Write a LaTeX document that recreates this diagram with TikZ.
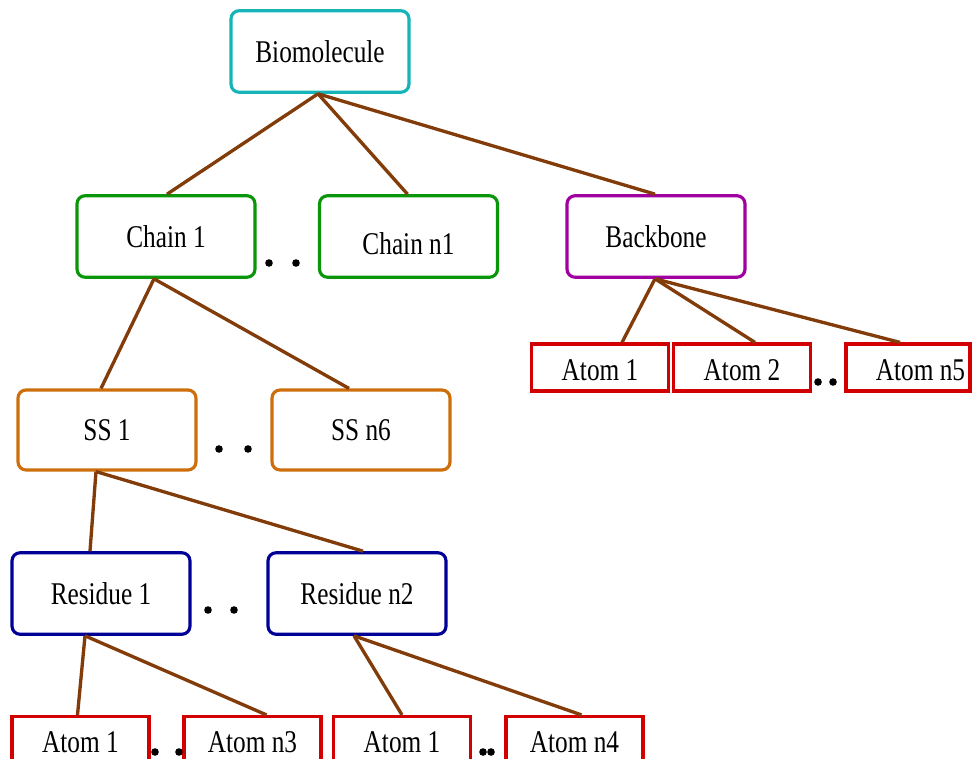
\documentclass[tikz,border=0pt]{standalone}
\usepackage{fontspec}
\setmainfont{Liberation Serif}[FakeStretch=0.8]
\usetikzlibrary{calc}
\definecolor{biocol}{RGB}{20,180,185}
\definecolor{chaincol}{RGB}{10,150,10}
\definecolor{bbcol}{RGB}{160,0,160}
\definecolor{sscol}{RGB}{205,110,10}
\definecolor{rescol}{RGB}{0,0,150}
\definecolor{atomcol}{RGB}{210,0,0}
\definecolor{linkcol}{RGB}{130,60,10}
\begin{document}
\begin{tikzpicture}[x=0.02cm,y=-0.02cm,
  lbl/.style={font=\fontsize{18}{20}\selectfont},
  box/.style={lbl, draw, line width=1.8pt, rounded corners=0.16cm,
    minimum width=3.56cm, minimum height=1.63cm, inner sep=0pt},
  atom/.style={lbl, draw=atomcol, line width=1.8pt,
    minimum width=2.74cm, minimum height=0.94cm, inner sep=0pt,
    text depth=0pt, text height=0.54cm},
  lowatom/.style={atom, text height=0.49cm},
  link/.style={draw=linkcol, line width=1.9pt},
  dot/.style={fill=black}]
\useasboundingbox (0,0) rectangle (972,759);
\clip (0,0) rectangle (972,759);

% top level
\node[box, draw=biocol] (bio) at (320,51.5) {Biomolecule};

% second level
\node[box, draw=chaincol] (ch1) at (166,236.5) {Chain 1};
\node[box, draw=chaincol, text depth=0pt, text height=0.72cm] (chn) at (408.5,236.5) {Chain n1};
\node[box, draw=bbcol]    (bb)  at (656,236.5) {Backbone};

% backbone atoms
\node[atom] (bba1) at (600,367.5) {Atom 1};
\node[atom] (bba2) at (742,367.5) {Atom 2};
\node[atom, minimum width=2.48cm, inner xsep=0pt] (bban) at (908,367.5) {\hspace*{0.5cm}Atom n5};

% secondary structures
\node[box, draw=sscol, minimum height=1.6cm] (ss1) at (107,430) {SS 1};
\node[box, draw=sscol, minimum height=1.6cm] (ssn) at (361,430) {SS n6};

% residues
\node[box, draw=rescol] (res1) at (101,593.5) {Residue 1};
\node[box, draw=rescol] (resn) at (357,593.5) {Residue n2};

% residue atoms
\node[lowatom] (ra1)  at (80.5,740)  {Atom 1};
\node[lowatom] (ran3) at (252.5,740) {Atom n3};
\node[lowatom] (rb1)  at (402,740)   {Atom 1};
\node[lowatom] (rbn4) at (574.5,740) {Atom n4};

% connectors
\draw[link] ($(bio.south)+(-2,0)$) -- ($(ch1.north)+(1,0)$);
\draw[link] ($(bio.south)+(-2,0)$) -- ($(chn.north)+(-1,0)$);
\draw[link] ($(bio.south)+(-2,0)$) -- ($(bb.north)+(-1,0)$);

\draw[link] ($(ch1.south)+(-12,0)$) -- ($(ss1.north)+(-6,0)$);
\draw[link] ($(ch1.south)+(-12,0)$) -- ($(ssn.north)+(-12,0)$);

\draw[link] ($(bb.south)+(-1,0)$) -- ($(bba1.north)+(22,0)$);
\draw[link] ($(bb.south)+(-1,0)$) -- ($(bba2.north)+(13,0)$);
\draw[link] ($(bb.south)+(-1,0)$) -- ($(bban.north)+(-8,0)$);

\draw[link] ($(ss1.south)+(-11,0)$) -- ($(res1.north)+(-11,0)$);
\draw[link] ($(ss1.south)+(-11,0)$) -- ($(resn.north)+(6,0)$);

\draw[link] ($(res1.south)+(-16,0)$) -- ($(ra1.north)+(-3,0)$);
\draw[link] ($(res1.south)+(-16,0)$) -- ($(ran3.north)+(14,0)$);

\draw[link] ($(resn.south)+(-3,0)$) -- ($(rb1.north)+(0,0)$);
\draw[link] ($(resn.south)+(-3,0)$) -- ($(rbn4.north)+(7,0)$);

% ellipsis dots
\fill[dot] (269,263) circle (3.8);
\fill[dot] (296,263) circle (3.8);
\fill[dot] (219,449) circle (3.8);
\fill[dot] (248,449) circle (3.8);
\fill[dot] (208,610) circle (3.8);
\fill[dot] (234,610) circle (3.8);
\fill[dot] (818,382) circle (3.8);
\fill[dot] (833,382) circle (3.8);
\fill[dot] (155,752) circle (3.8);
\fill[dot] (179,752) circle (3.8);
\fill[dot] (483,752) circle (3.8);
\fill[dot] (491,752) circle (3.8);
\end{tikzpicture}
\end{document}
